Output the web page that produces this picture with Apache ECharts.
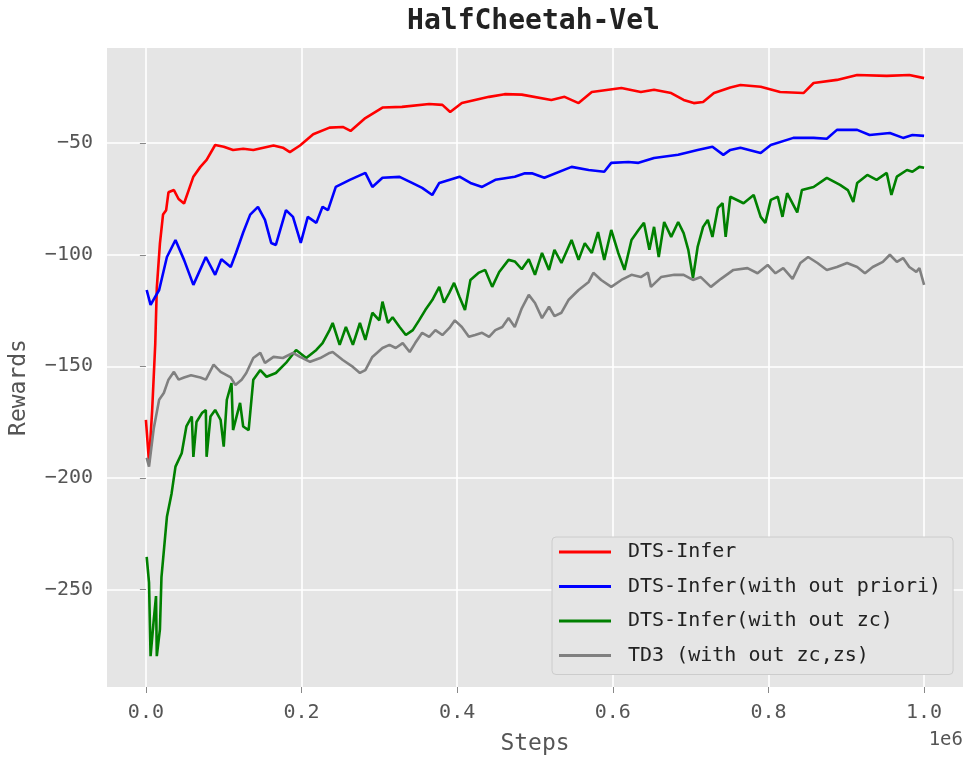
<!DOCTYPE html>
<html>
<head>
<meta charset="utf-8">
<script src="https://cdn.jsdelivr.net/npm/echarts@6/dist/echarts.min.js"></script>
<style>
html,body{margin:0;padding:0;background:#fff;}
#chart{width:968px;height:763px;}
</style>
</head>
<body>
<div id="chart"></div>
<script>
// Steps are in units of 1e6 (matching the axis offset label "1e6")
const seriesNames = ['DTS-Infer', 'DTS-Infer(with out priori)', 'DTS-Infer(with out zc)', 'TD3 (with out zc,zs)'];
const xTicks = [0, 0.2, 0.4, 0.6, 0.8, 1.0];
const yTicks = [-250, -200, -150, -100, -50];

const redSteps = [0.000,0.004,0.008,0.012,0.014,0.018,0.022,0.026,0.029,0.036,0.042,0.049,0.055,0.061,0.070,0.078,0.089,0.100,0.112,0.125,0.138,0.151,0.164,0.176,0.185,0.198,0.215,0.236,0.253,0.263,0.282,0.304,0.329,0.364,0.381,0.391,0.406,0.441,0.461,0.483,0.521,0.538,0.556,0.573,0.611,0.636,0.653,0.675,0.691,0.704,0.716,0.730,0.751,0.764,0.790,0.815,0.845,0.858,0.888,0.914,0.952,0.981,1.000];
const redRewards = [-174,-193,-170,-140,-115,-95,-82,-80,-72,-71,-75,-77,-71,-65,-60.6,-57.5,-50.8,-51.6,-53,-52.5,-53,-52,-51,-52,-54,-51,-46,-43,-42.7,-44.5,-38.7,-34,-33.7,-32.4,-32.8,-36,-32,-29.2,-28,-28.2,-30.6,-29.2,-32,-27,-25.2,-27,-26,-27.5,-30.6,-32,-31.5,-27.5,-25,-23.9,-24.7,-27,-27.5,-23,-21.6,-19.4,-19.8,-19.4,-20.8];

const blueSteps = [0.001,0.006,0.017,0.027,0.038,0.049,0.061,0.077,0.089,0.097,0.109,0.116,0.125,0.134,0.144,0.153,0.161,0.167,0.180,0.189,0.199,0.208,0.219,0.227,0.234,0.244,0.262,0.282,0.291,0.304,0.326,0.342,0.355,0.368,0.377,0.403,0.417,0.432,0.449,0.474,0.487,0.496,0.512,0.547,0.569,0.589,0.598,0.620,0.633,0.653,0.684,0.709,0.728,0.742,0.751,0.764,0.790,0.803,0.832,0.858,0.875,0.888,0.914,0.930,0.956,0.973,0.985,1.000];
const blueRewards = [-115.8,-122.5,-115.8,-101,-93.4,-102.3,-113.5,-101,-109,-102,-105.5,-99,-90,-82,-78.5,-84.4,-94.7,-95.6,-80,-83,-94.7,-83,-85.7,-78.5,-80,-69.6,-66.4,-63.3,-69.6,-65.5,-65.1,-67.8,-70,-73.2,-67.8,-65,-67.8,-69.6,-66.4,-65,-63.5,-63.5,-65.5,-60.6,-62,-62.8,-58.8,-58.4,-58.8,-56.6,-55.2,-53,-51.6,-55.2,-53,-52,-54.4,-50.8,-47.6,-47.6,-48,-44,-44,-46.3,-45.4,-47.6,-46.3,-46.7];

const greenSteps = [0.001,0.004,0.006,0.010,0.013,0.014,0.018,0.020,0.027,0.033,0.038,0.046,0.052,0.059,0.061,0.065,0.072,0.077,0.078,0.083,0.089,0.096,0.100,0.104,0.110,0.112,0.121,0.125,0.132,0.138,0.147,0.155,0.167,0.180,0.193,0.206,0.219,0.227,0.236,0.240,0.249,0.257,0.266,0.275,0.282,0.291,0.300,0.304,0.311,0.317,0.326,0.334,0.343,0.351,0.359,0.368,0.377,0.383,0.390,0.396,0.403,0.410,0.417,0.428,0.436,0.445,0.454,0.466,0.474,0.483,0.492,0.500,0.509,0.518,0.525,0.534,0.547,0.556,0.564,0.573,0.581,0.589,0.598,0.607,0.615,0.624,0.633,0.640,0.647,0.653,0.659,0.666,0.675,0.684,0.691,0.697,0.703,0.709,0.716,0.722,0.728,0.735,0.741,0.745,0.751,0.768,0.781,0.790,0.796,0.803,0.812,0.818,0.824,0.837,0.843,0.858,0.875,0.892,0.902,0.909,0.914,0.927,0.939,0.952,0.958,0.965,0.978,0.985,0.994,1.000];
const greenRewards = [-235.5,-247,-280,-264,-253,-280,-268,-244.5,-217.5,-207,-195,-189,-177,-172.5,-190.6,-175,-171,-169.6,-190.6,-172.5,-169.6,-174,-186,-165,-157.5,-178.6,-166.4,-177,-178.6,-156,-151.7,-154.7,-153,-148.5,-142.7,-146.3,-142.7,-139.6,-133.8,-130.6,-140.4,-132.4,-140.4,-130.6,-138.2,-126,-129.4,-121,-130.6,-128,-132.4,-136,-133.8,-129.4,-124.8,-120.3,-114.4,-121.5,-117,-112.6,-118.9,-124.8,-111.3,-108,-106.8,-114.4,-107.7,-102.3,-103,-106.5,-102,-109,-99.2,-106.8,-97.8,-103.7,-93.4,-102.3,-94.8,-99.2,-89.8,-102.3,-88.9,-99.2,-106.8,-93.4,-88.9,-85.7,-97.8,-87.5,-101,-85.3,-92,-85.3,-90.3,-97.8,-110.4,-96.5,-87.5,-84.4,-92,-79,-76.9,-92,-74,-76.9,-73.2,-83,-85.7,-75.4,-74,-83,-72.4,-81,-71,-69.6,-65.5,-68.7,-71,-76.3,-67.8,-64.2,-66.4,-63.3,-73.2,-65,-62,-62.8,-60.6,-61];

const graySteps = [0.001,0.004,0.010,0.017,0.023,0.029,0.036,0.042,0.049,0.058,0.070,0.077,0.087,0.096,0.109,0.115,0.123,0.129,0.138,0.147,0.153,0.164,0.176,0.189,0.198,0.211,0.224,0.236,0.240,0.253,0.266,0.275,0.282,0.291,0.304,0.313,0.321,0.330,0.339,0.346,0.355,0.364,0.372,0.381,0.390,0.397,0.406,0.415,0.423,0.432,0.441,0.449,0.458,0.466,0.474,0.483,0.492,0.500,0.509,0.518,0.525,0.534,0.543,0.556,0.569,0.575,0.585,0.598,0.611,0.624,0.636,0.645,0.649,0.662,0.679,0.691,0.703,0.713,0.726,0.739,0.755,0.773,0.786,0.799,0.809,0.819,0.831,0.841,0.851,0.863,0.875,0.888,0.901,0.914,0.924,0.934,0.947,0.956,0.965,0.973,0.981,0.990,0.994,1.000];
const grayRewards = [-191,-195,-178,-165,-162,-156,-152.5,-156,-155,-154,-155,-156,-149.3,-152.5,-155,-158.4,-156,-153,-146.3,-144,-148.5,-145.8,-146.3,-144,-145.8,-148,-146.3,-144,-143.6,-147.2,-150.3,-153,-151.7,-145.8,-141.8,-140.4,-141.8,-139.6,-143.6,-139.6,-135,-136.8,-133.8,-136,-132.8,-129.4,-132.4,-136.8,-136,-135,-136.8,-133.8,-132.4,-128.4,-132.4,-124,-118,-121.6,-128.4,-123.3,-127.5,-126,-120.3,-115.8,-112.2,-108.1,-111.3,-114.4,-111.3,-109,-110,-108,-114.4,-110,-109,-109,-111.3,-110,-114.4,-110.8,-106.8,-106,-108.3,-104.6,-108.3,-106,-110.8,-103.7,-101,-103.7,-106.8,-105.5,-103.7,-105.5,-108.3,-105.5,-103.2,-100,-103.2,-101.5,-105.5,-107.7,-106,-113.5];

const colors = ['#ff0000', '#0000ff', '#008000', '#808080'];
const FONT = 'DejaVu Sans Mono';

function zip(xs, ys) { return xs.map((x, i) => [x, ys[i]]); }
const allData = [zip(redSteps, redRewards), zip(blueSteps, blueRewards), zip(greenSteps, greenRewards), zip(graySteps, grayRewards)];

const chart = echarts.init(document.getElementById('chart'), null, {renderer: 'canvas'});
chart.setOption({
  animation: false,
  backgroundColor: '#ffffff',
  title: {
    text: 'HalfCheetah-Vel',
    left: 533.5,
    top: 8,
    textAlign: 'center',
    padding: 0,
    textStyle: {fontFamily: FONT, fontSize: 28, fontWeight: 'bold', color: '#222'}
  },
  grid: {
    left: 104, top: 48, right: 5, bottom: 76,
    show: true, backgroundColor: '#e5e5e5', borderWidth: 0
  },
  legend: {
    orient: 'vertical',
    left: 552, top: 537,
    data: seriesNames,
    icon: 'rect',
    itemWidth: 52, itemHeight: 3,
    itemGap: 14.5,
    padding: [5, 12, 9, 7],
    backgroundColor: '#e5e5e5',
    borderColor: '#cccccc', borderWidth: 1, borderRadius: 4,
    textStyle: {fontFamily: FONT, fontSize: 20, lineHeight: 20, color: '#222', padding: [0, 0, 0, 12]}
  },
  xAxis: {
    type: 'value',
    min: -0.05, max: 1.05,
    name: 'Steps',
    nameLocation: 'middle',
    nameGap: 46,
    nameTextStyle: {fontFamily: FONT, fontSize: 23, color: '#555'},
    axisLine: {show: false},
    axisTick: {show: true, customValues: xTicks, length: 6, lineStyle: {color: '#888'}},
    axisLabel: {customValues: xTicks, margin: 16, fontFamily: FONT, fontSize: 20, color: '#555',
      formatter: v => v.toFixed(1)},
    splitLine: {show: true, lineStyle: {color: '#ffffff', width: 1.6}}
  },
  yAxis: {
    type: 'value',
    min: -293.8, max: -7.3,
    name: 'Rewards',
    nameLocation: 'middle',
    nameGap: 76,
    nameTextStyle: {fontFamily: FONT, fontSize: 23, color: '#555', padding: [0, 40, 0, 0]},
    axisLine: {show: false},
    axisTick: {show: true, customValues: yTicks, length: 6, lineStyle: {color: '#888'}},
    axisLabel: {customValues: yTicks, margin: 14, fontFamily: FONT, fontSize: 20, color: '#555',
      formatter: v => (v < 0 ? '\u2212' + Math.abs(v) : String(v))},
    splitLine: {show: true, lineStyle: {color: '#ffffff', width: 1.6}}
  },
  graphic: [{
    type: 'text', right: 5, top: 731,
    style: {text: '1e6', fontFamily: FONT, fontSize: 19, fill: '#555'}
  }],
  series: seriesNames.map((name, i) => ({
    name: name,
    type: 'line',
    data: allData[i],
    symbol: 'none',
    showSymbol: false,
    color: colors[i],
    lineStyle: {color: colors[i], width: 2.6},
    z: 2 + i
  }))
});
</script>
</body>
</html>
